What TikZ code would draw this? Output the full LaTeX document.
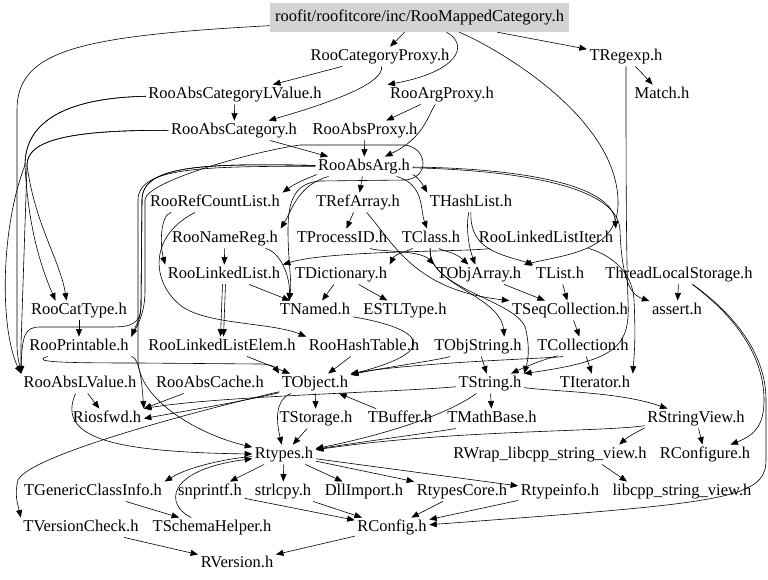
\documentclass[tikz,border=0pt]{standalone}
\usepackage{fontspec}
\setmainfont{Liberation Serif}
\usetikzlibrary{arrows.meta}
\definecolor{topgray}{RGB}{211,211,211}
\begin{document}
\begin{tikzpicture}[x=1pt,y=-1pt,
  n/.style={font=\fontsize{16.5pt}{19pt}\selectfont, inner sep=2.5pt, text height=11pt, text depth=3.5pt, yshift=-3.5pt},
  e/.style={draw=black, line width=0.6pt, -{Triangle[length=7.5pt,width=6pt]}}]
\useasboundingbox (0,0) rectangle (768,579);
\fill[white] (0,0) rectangle (768,579);
% nodes
\node[n,fill=topgray,minimum width=299pt,minimum height=29pt,yshift=3.5pt] (top) at (419.5,17.5) {roofit/roofitcore/inc/RooMappedCategory.h};
\node[n] (catproxy) at (380,53) {RooCategoryProxy.h};
\node[n] (tregexp) at (626,53) {TRegexp.h};
\node[n] (abscatlv) at (235,91) {RooAbsCategoryLValue.h};
\node[n] (argproxy) at (442,91) {RooArgProxy.h};
\node[n] (match) at (662,91) {Match.h};
\node[n] (abscat) at (234,127) {RooAbsCategory.h};
\node[n] (absproxy) at (365,127) {RooAbsProxy.h};
\node[n] (absarg) at (364,163) {RooAbsArg.h};
\node[n] (refcount) at (215,199) {RooRefCountList.h};
\node[n] (trefarray) at (358,199) {TRefArray.h};
\node[n] (thashlist) at (471,199) {THashList.h};
\node[n] (namereg) at (225,235) {RooNameReg.h};
\node[n] (tprocessid) at (342,235) {TProcessID.h};
\node[n] (tclass) at (431,235) {TClass.h};
\node[n] (lliter) at (546,235) {RooLinkedListIter.h};
\node[n] (linkedlist) at (224,271) {RooLinkedList.h};
\node[n] (tdict) at (341,271) {TDictionary.h};
\node[n] (tobjarray) at (479,271) {TObjArray.h};
\node[n] (tlist) at (560,271) {TList.h};
\node[n] (tls) at (679,271) {ThreadLocalStorage.h};
\node[n] (cattype) at (79,307) {RooCatType.h};
\node[n] (tnamed) at (315,307) {TNamed.h};
\node[n] (estl) at (405,307) {ESTLType.h};
\node[n] (tseqcoll) at (570,307) {TSeqCollection.h};
\node[n] (assert) at (677,307) {assert.h};
\node[n] (printable) at (79,343) {RooPrintable.h};
\node[n] (llelem) at (222,343) {RooLinkedListElem.h};
\node[n] (hashtable) at (364,343) {RooHashTable.h};
\node[n] (tobjstring) at (478,343) {TObjString.h};
\node[n] (tcollection) at (583,343) {TCollection.h};
\node[n] (abslvalue) at (80,380) {RooAbsLValue.h};
\node[n] (abscache) at (210,380) {RooAbsCache.h};
\node[n] (tobject) at (315,380) {TObject.h};
\node[n] (tstring) at (490,380) {TString.h};
\node[n] (titerator) at (595,380) {TIterator.h};
\node[n] (riosfwd) at (107,415) {Riosfwd.h};
\node[n] (tstorage) at (316,415) {TStorage.h};
\node[n] (tbuffer) at (400,415) {TBuffer.h};
\node[n] (tmathbase) at (492,415) {TMathBase.h};
\node[n] (rstringview) at (696,415) {RStringView.h};
\node[n] (rtypes) at (284,451) {Rtypes.h};
\node[n] (rwrap) at (550,451) {RWrap\_libcpp\_string\_view.h};
\node[n] (rconfigure) at (705,451) {RConfigure.h};
\node[n] (tgeneric) at (93,488) {TGenericClassInfo.h};
\node[n] (snprintf) at (210,488) {snprintf.h};
\node[n] (strlcpy) at (283,488) {strlcpy.h};
\node[n] (dllimport) at (364,488) {DllImport.h};
\node[n] (rtypescore) at (462,488) {RtypesCore.h};
\node[n] (rtypeinfo) at (560,488) {Rtypeinfo.h};
\node[n] (libcpp) at (682,488) {libcpp\_string\_view.h};
\node[n] (tversion) at (81,524) {TVersionCheck.h};
\node[n] (tschema) at (212,524) {TSchemaHelper.h};
\node[n] (rconfig) at (392,524) {RConfig.h};
\node[n] (rversion) at (237,560) {RVersion.h};
% top edges
\draw[e] (top) -- (catproxy);
\draw[e] (top) -- (tregexp);
\draw[e] (tregexp) -- (match);
\draw[e] (top) .. controls (80,36) and (17,50) .. (17,110) -- (17,345) .. controls (17,355) and (19,362) .. (abslvalue.north west);
\draw[e] (top) .. controls (470,45) and (458,72) .. (argproxy.north west);
\draw[e] (catproxy) .. controls (384,82) and (340,100) .. (abscat);
\draw[e] (catproxy) -- (abscatlv);
\draw[e] (abscatlv) -- (abscat);
\draw[e] (argproxy) -- (absproxy);
\draw[e] (argproxy) .. controls (428,115) and (424,138) .. (absarg);
\draw[e] (absproxy) -- (absarg);
\draw[e] (abscat) -- (absarg);
% left fan
\draw[e] (abscatlv) .. controls (60,98) and (25,125) .. (25,165) .. controls (28,225) and (40,265) .. ([xshift=27pt]cattype.north west);
\draw[e] (abscat) .. controls (70,130) and (27,140) .. (27,165) .. controls (35,225) and (60,260) .. ([xshift=38pt]cattype.north west);
\draw[e] (abscatlv) .. controls (60,98) and (25,125) .. (25,165) .. controls (0,230) and (0,330) .. (abslvalue.north west);
\draw[e] (abscat) .. controls (70,130) and (27,140) .. (27,165) -- (21,345) -- (abslvalue.north west);
\draw[e] (cattype) -- (printable);
\draw[e] (absarg) .. controls (200,163) and (142,166) .. (142,200) -- (141,305) .. controls (141,318) and (137,323) .. (printable.north east);
\draw[e] (absarg) .. controls (200,163) and (142,166) .. (142,200) -- (141,305) .. controls (141,325) and (130,327) .. (110,327) -- (40,327) .. controls (25,327) and (22,335) .. (abslvalue.north west);
\draw[e] (absarg) .. controls (200,166) and (138,168) .. (138,200) -- (138,360) .. controls (138,400) and (200,435) .. (rtypes);
\draw[e] (printable.north east) .. controls (140,322) and (145,310) .. (145,290) -- (145,200) .. controls (145,182) and (250,152) .. (300,145) -- (405,145) .. controls (428,148) and (430,178) .. (405,180) -- (320,181) .. controls (295,183) and (288,200) .. (288,230) .. controls (288,262) and (292,280) .. ([xshift=12pt]tnamed.north west);
\draw[e] (printable) .. controls (30,362) and (60,363) .. (140,363) -- (260,364) .. controls (268,364) and (274,366) .. (tobject.north west);
\draw[e] (printable) .. controls (140,358) and (142,385) .. (riosfwd.north east);
\draw[e] (abslvalue) -- (riosfwd);
\draw[e] (abscache) -- (riosfwd.north east);
\draw[e] (tobject) .. controls (250,400) and (180,412) .. (riosfwd.east);
\draw[e] (tstring) .. controls (400,392) and (220,396) .. (riosfwd.north east);
\draw[e] (abslvalue) .. controls (55,440) and (120,452) .. (rtypes);
% lower middle
\draw[e] (tobject) .. controls (200,410) and (30,455) .. (18,480) .. controls (14,495) and (18,505) .. (tversion.north west);
\draw[e] (tobject) .. controls (275,400) and (276,420) .. (rtypes);
\draw[e] (tobject) -- (tstorage);
\draw[e] (tstorage) -- (rtypes);
\draw[e] (tbuffer) -- (tobject);
\draw[e] (tmathbase) .. controls (450,430) and (360,442) .. (rtypes);
\draw[e] (tstring) -- (tmathbase);
\draw[e] (tstring) .. controls (560,392) and (620,392) .. (rstringview);
\draw[e] (tstring) .. controls (440,420) and (360,440) .. (rtypes);
\draw[e] (rstringview) .. controls (600,432) and (450,430) .. (rtypes);
\draw[e] (rstringview) -- (rconfigure);
\draw[e] (rstringview) .. controls (645,428) and (630,435) .. ([xshift=-30pt]rwrap.north east);
\draw[e] ([xshift=52pt]rwrap.south) -- ([xshift=-55pt]libcpp.north);
\draw[e] (tls) .. controls (740,320) and (764,360) .. (764,400) .. controls (764,425) and (755,435) .. (rconfigure);
\draw[e] (tls) .. controls (742,320) and (766,360) .. (766,400) -- (766,460) .. controls (766,500) and (720,503) .. (rconfig);
\draw[e] (tls) -- (assert);
\draw[e] (rtypes) .. controls (230,458) and (190,466) .. (tgeneric.north east);
\draw[e] (tschema) .. controls (165,505) and (165,470) .. (rtypes);
\draw[e] (rtypes) -- (snprintf);
\draw[e] (rtypes) -- (strlcpy);
\draw[e] (rtypes) -- (dllimport);
\draw[e] (rtypes) -- (rtypescore);
\draw[e] (rtypes) -- (rtypeinfo);
\draw[e] (tgeneric) -- (tschema);
\draw[e] (tversion) -- (rversion);
\draw[e] (rconfig) -- (rversion);
\draw[e] (snprintf) -- (rconfig);
\draw[e] (strlcpy) -- (rconfig);
\draw[e] (rtypescore) -- (rconfig);
\draw[e] (rtypeinfo) -- (rconfig);
% middle
\draw[e] (absarg) .. controls (320,174) and (300,180) .. (refcount.north east);
\draw[e] (absarg) .. controls (298,185) and (292,210) .. (namereg.north east);
\draw[e] (absarg) -- (trefarray);
\draw[e] (absarg) .. controls (415,175) and (420,180) .. (thashlist.north west);
\draw[e] (absarg) .. controls (425,185) and (420,210) .. (tclass);
\draw[e] (absarg) .. controls (500,168) and (612,180) .. (lliter.north east);
\draw[e] (absarg) .. controls (500,170) and (618,182) .. (620,230) .. controls (622,290) and (635,296) .. (assert);
\draw[e] (top) .. controls (480,40) and (615,110) .. (618,200) .. controls (620,250) and (570,254) .. (tobjarray.north east);
\draw[e] (tregexp) .. controls (626,150) and (626,250) .. (628,300) .. controls (630,345) and (620,360) .. (tstring.north east);
\draw[e] (lliter) .. controls (595,250) and (632,262) .. (634,300) .. controls (636,340) and (634,358) .. (titerator.north east);
\draw[e] (lliter) .. controls (470,252) and (330,250) .. (linkedlist.north east);
\draw[e] (refcount) .. controls (160,215) and (160,245) .. (linkedlist.north west);
\draw[e] (refcount) .. controls (150,235) and (150,280) .. (180,305) .. controls (205,325) and (270,322) .. (hashtable.north west);
\draw[e] (namereg) -- (linkedlist);
\draw[e] (namereg) .. controls (280,252) and (290,275) .. ([xshift=12pt]tnamed.north west);
\draw[e] (linkedlist) -- (tnamed);
\draw[e] ([xshift=-1.5pt]linkedlist.south) -- ([xshift=-1.5pt]llelem.north);
\draw[e] ([xshift=1.5pt]linkedlist.south) -- ([xshift=1.5pt]llelem.north);
\draw[e] (trefarray) -- (tprocessid);
\draw[e] (trefarray) .. controls (395,245) and (415,290) .. (tseqcoll.north west);
\draw[e] (tprocessid) .. controls (380,252) and (420,250) .. (tobjarray.north west);
\draw[e] (tclass) .. controls (410,250) and (395,254) .. (tdict.north east);
\draw[e] (tclass) .. controls (440,250) and (455,252) .. (tobjarray);
\draw[e] (tclass) .. controls (427,285) and (500,295) .. ([xshift=-20pt]tobjstring.north east);
\draw[e] (tclass) .. controls (427,290) and (520,300) .. (526,330) .. controls (530,350) and (528,360) .. (tstring.north east);
\draw[e] (thashlist) .. controls (466,225) and (468,245) .. (tobjarray);
\draw[e] (thashlist) .. controls (470,250) and (500,254) .. (tlist.north west);
\draw[e] (tdict) -- (tnamed);
\draw[e] (tdict) -- (estl);
\draw[e] (tobjarray) -- (tseqcoll);
\draw[e] (tlist) -- (tseqcoll);
\draw[e] (tseqcoll) -- (tcollection);
\draw[e] (tcollection) -- (titerator);
\draw[e] (tcollection) .. controls (560,358) and (420,362) .. (tobject.north east);
\draw[e] (tcollection) .. controls (560,355) and (540,360) .. (tstring);
\draw[e] (tobjstring) .. controls (440,360) and (380,368) .. (tobject);
\draw[e] (tobjstring) -- (tstring);
\draw[e] (tnamed) .. controls (420,328) and (445,350) .. (tobject);
\draw[e] (hashtable) -- (tobject);
\draw[e] (llelem) -- (tobject);
\end{tikzpicture}
\end{document}
